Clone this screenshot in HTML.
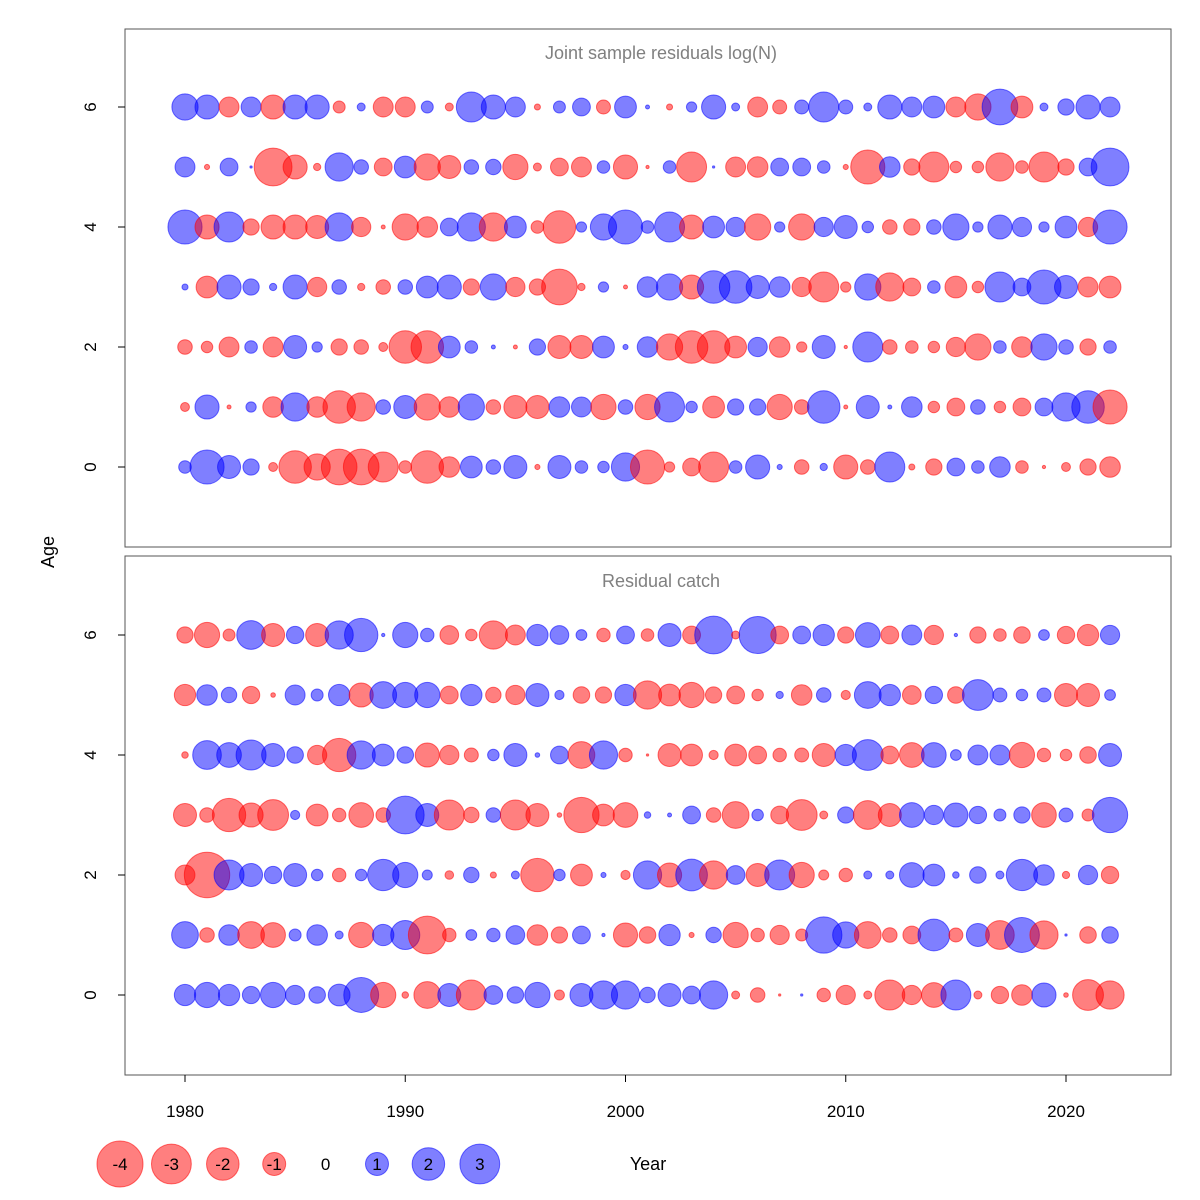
<!DOCTYPE html>
<html>
<head>
<meta charset="utf-8">
<style>
  html,body{margin:0;padding:0;background:#fff;}
  svg{display:block;font-family:"Liberation Sans",Arial,sans-serif;}
</style>
</head>
<body>
<svg id="chart" width="1200" height="1200" viewBox="0 0 1200 1200" xmlns="http://www.w3.org/2000/svg">
  <rect x="0" y="0" width="1200" height="1200" fill="#fff"/>
  <g id="panel1">
    <rect x="125" y="29" width="1046" height="518" fill="none" stroke="#555" stroke-width="1"/>
    <text x="661" y="59" text-anchor="middle" font-size="18" fill="#808080">Joint sample residuals log(N)</text>
  </g>
  <g id="panel2">
    <rect x="125" y="556" width="1046" height="519" fill="none" stroke="#555" stroke-width="1"/>
    <text x="661" y="587" text-anchor="middle" font-size="18" fill="#808080">Residual catch</text>
  </g>
  <text transform="translate(54,552) rotate(-90)" text-anchor="middle" font-size="18" fill="#000">Age</text>
  <text x="648" y="1170" text-anchor="middle" font-size="18" fill="#000">Year</text>
  <g id="axes"></g>
  <g id="bubbles1"></g>
  <g id="bubbles2"></g>
  <g id="legend"></g>
</svg>
<script>
const years = [];
for (let y = 1980; y <= 2022; y++) years.push(y);
const xTicks = [1980, 1990, 2000, 2010, 2020];
const yTicks = [0, 2, 4, 6];
const legendValues = [-4, -3, -2, -1, 0, 1, 2, 3];

const jointAge0 = [.3,2.2,1.0,.5,-.15,-2.0,-1.3,-2.4,-2.4,-1.7,-.3,-2.0,-.8,.9,.4,1.0,-.05,1.0,.3,.25,1.5,-2.2,-.2,-.6,-1.7,.3,1.1,.05,-.4,.1,-1.1,-.4,1.7,-.07,-.5,.6,.3,.8,-.3,-.02,-.15,-.5,-.8];
const jointAge1 = [-.15,1.1,-.03,.2,-.8,1.5,-.8,-2.0,-1.5,.4,1.0,-1.3,-.8,1.3,-.4,-1.0,-1.0,.8,.75,-1.2,.4,-1.2,1.7,.25,-.9,.5,.5,-1.2,-.4,2.0,-.03,1.0,.03,.8,-.25,-.6,.4,-.25,-.6,.6,1.5,2.0,-2.2];
const jointAge2 = [-.4,-.25,-.75,.3,-.75,1.0,.2,-.5,-.4,-.15,-2.0,-2.0,.9,.3,.03,-.03,.5,-1.0,-1.0,.9,.05,.8,-1.3,-2.0,-2.0,-.9,.7,-.8,-.2,1.0,-.02,1.7,-.4,-.3,-.25,-.7,-1.3,.3,-.8,1.3,.4,-.5,.3];
const jointAge3 = [.07,-.9,1.1,.5,.1,1.1,-.7,.4,-.1,-.4,.4,.9,1.1,-.5,1.3,-.7,-.5,-2.4,-.1,.2,-.03,.8,1.3,-1.1,2.0,2.0,1.0,.8,-.7,-1.7,-.2,1.3,-1.5,-.6,.3,-.9,-.25,1.7,.6,2.2,1.0,-.75,-.9];
const jointAge4 = [2.2,-1.1,1.7,-.5,-1.1,-1.1,-1.0,1.5,-.7,-.03,-1.3,-.8,.6,1.5,-1.5,.9,-.3,-2.0,.2,1.3,2.2,.3,1.7,-1.1,.9,.7,-1.3,.2,-1.3,.7,1.0,.25,-.4,-.5,.4,1.3,.2,1.1,.7,.2,.9,-.7,2.2];
const jointAge5 = [.75,-.05,.6,.01,-2.7,-1.1,-.1,1.5,.4,-.6,.9,-1.3,-1.0,.4,.45,-1.2,-.12,-.6,-.75,.3,-1.1,-.02,.3,-1.7,.01,-.75,-.8,.6,.6,.3,-.05,-2.2,.8,-.5,-1.7,-.25,-.25,-1.5,-.3,-1.7,-.5,.6,2.7];
const jointAge6 = [1.3,1.1,-.75,.75,-1.1,1.1,1.1,-.27,.12,-.75,-.75,.27,-.12,1.7,1.1,.75,-.07,.27,.6,-.37,.9,.03,-.07,.2,1.1,.12,-.75,-.37,.37,1.7,.37,.12,1.1,.75,.9,-.75,-1.3,2.4,-.9,.12,.5,1.1,.75];

const catchAge0 = [.86,1.2,.86,.57,1.2,.7,.52,.9,2.3,-1.2,-.08,-1.35,1.0,-1.7,.66,.52,1.2,-.19,1.0,1.5,1.5,.45,1.0,.6,1.5,-.12,-.4,-.01,.01,-.34,-.7,-.12,-1.7,-.7,-1.15,1.7,-.12,-.57,-.8,1.1,-.04,-1.8,-1.5];
const catchAge1 = [1.35,-.4,.8,-1.35,-1.15,.27,.8,.12,-1.2,.86,1.6,-2.7,-.34,.22,.34,.66,-.8,-.5,.6,.02,-1.1,-.52,.86,-.05,.45,-1.2,-.34,-.7,-.27,2.5,1.3,-1.35,-.4,-.6,1.9,-.37,1.0,-1.55,2.3,-1.5,.01,-.52,.52];
const catchAge2 = [-.75,-3.9,1.7,1.0,.57,1.0,.25,-.34,.25,1.85,1.2,.19,-.14,.45,-.07,.12,-2.1,.25,-.9,.05,-.16,1.5,-1.1,1.9,-1.5,.66,-1.0,1.7,-1.2,-.19,-.34,.12,.12,1.15,.9,.08,.52,.12,1.85,.8,-.1,.7,-.57];
const catchAge3 = [-1.0,-.4,-2.1,-1.1,-1.8,.16,-.9,-.34,-1.15,-.4,2.7,1.0,-1.7,-.45,.4,-1.7,-1.0,-.04,-2.35,-.9,-1.15,.08,.03,.6,-.4,-1.35,.25,-.6,-1.8,-.12,.5,-1.55,-1.0,1.15,.7,1.1,.57,.27,.5,-1.15,.37,-.27,2.35];
const catchAge4 = [-.08,1.55,1.15,1.7,1.0,.52,-.7,-2.1,1.5,.9,.52,-1.1,-.7,-.37,.25,1.0,.04,.6,-1.35,1.5,-.34,-.01,-1.0,-.9,-.16,-.9,-.6,-.34,-.37,-1.0,.86,1.8,-.6,-1.15,1.15,.22,.75,.75,-1.2,-.34,-.25,-.52,1.0];
const catchAge5 = [-.86,.8,.45,-.57,-.04,.75,.27,.86,-1.1,1.35,1.2,1.2,-.6,.86,-.45,-.7,1.0,.16,-.52,-.5,.86,-1.5,-.9,-1.2,-.5,-.6,-.25,.1,-.8,.4,-.16,1.35,.86,-.66,.57,-.52,1.8,.37,.25,.37,-1.0,-1.0,.22];
const catchAge6 = [-.5,-1.2,-.27,1.55,-1.0,.57,-1.0,1.5,2.1,.02,1.2,.34,-.66,-.25,-1.5,-.75,.86,.66,.22,-.34,.6,-.3,1.0,-.6,2.7,-.12,2.6,-.6,.6,.86,-.5,1.15,-.6,.75,-.7,.02,-.5,-.3,-.52,.22,-.57,-.86,.7];

const jointRows = [jointAge0, jointAge1, jointAge2, jointAge3, jointAge4, jointAge5, jointAge6];
const catchRows = [catchAge0, catchAge1, catchAge2, catchAge3, catchAge4, catchAge5, catchAge6];

const NS = "http://www.w3.org/2000/svg";
function xScale(yr){ return 185 + (yr - 1980) * 22.025; }
function yScale1(a){ return 467 - a * 60; }
function yScale2(a){ return 995 - a * 60; }
function rScale(v){ return 11.5 * Math.sqrt(Math.abs(v)); }
function fillOf(v){ return v < 0 ? "rgba(255,0,0,0.5)" : "rgba(0,0,255,0.5)"; }
function strokeOf(v){ return v < 0 ? "rgba(255,0,0,0.55)" : "rgba(0,0,255,0.55)"; }

function mk(tag, attrs, parent){
  const e = document.createElementNS(NS, tag);
  for (const k in attrs) e.setAttribute(k, attrs[k]);
  parent.appendChild(e);
  return e;
}

const axes = document.getElementById("axes");
// y axes
[yScale1, yScale2].forEach((ys, pi) => {
  yTicks.forEach(t => {
    const yy = ys(t);
    const tk = mk("line", {x1:118, x2:125, y1:yy, y2:yy, stroke:"#000"}, axes);
    
    
    const lb = mk("text", {transform:`translate(96,${yy}) rotate(-90)`, "text-anchor":"middle", "font-size":"17", fill:"#000"}, axes);
    
    
    lb.textContent = t;
  });
});
// x axis
xTicks.forEach(t => {
  const xx = xScale(t);
  const tk = mk("line", {x1:xx, x2:xx, y1:1075, y2:1082, stroke:"#000"}, axes);
  
  
  const lb = mk("text", {x:xx, y:1117, "text-anchor":"middle", "font-size":"17", fill:"#000"}, axes);
  
  
  lb.textContent = t;
});

function drawPanel(rows, ys, gid){
  const g = document.getElementById(gid);
  rows.forEach((row, age) => {
    row.forEach((v, i) => {
      const c = mk("circle", {cx:xScale(years[i]), cy:ys(age), r:rScale(v), fill:fillOf(v), stroke:strokeOf(v), "stroke-width":"1"}, g);
      
      
    });
  });
}
drawPanel(jointRows, yScale1, "bubbles1");
drawPanel(catchRows, yScale2, "bubbles2");

// legend
const lg = document.getElementById("legend");
legendValues.forEach((v, i) => {
  const cx = 120 + i * 51.4;
  if (v !== 0) {
    const c = mk("circle", {cx:cx, cy:1164, r:rScale(v), fill:fillOf(v), stroke:strokeOf(v), "stroke-width":"1"}, lg);
    
    
  }
  const t = mk("text", {x:cx, y:1170, "text-anchor":"middle", "font-size":"17", fill:"#000"}, lg);
  
  
  t.textContent = v;
});
</script>
</body>
</html>
